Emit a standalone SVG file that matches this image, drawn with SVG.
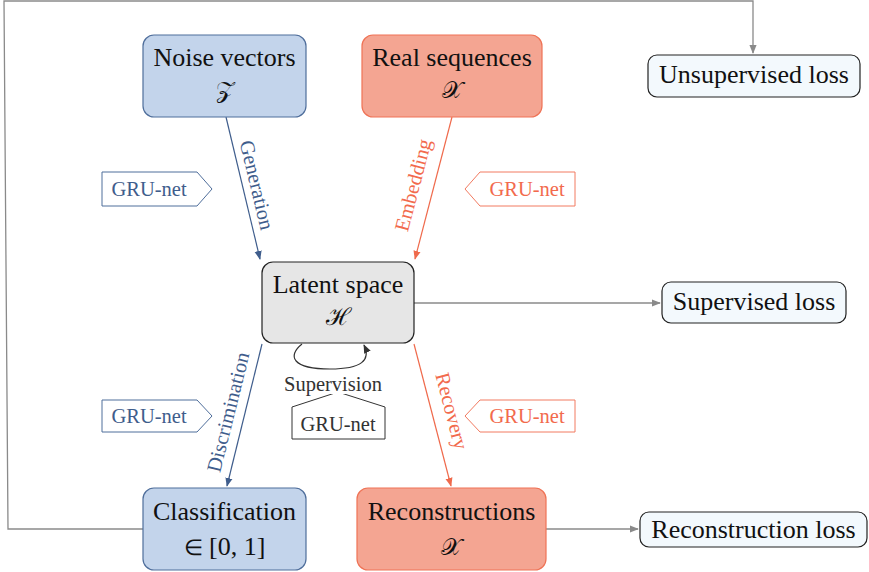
<svg xmlns="http://www.w3.org/2000/svg" width="869" height="572" viewBox="0 0 869 572">
  <style>
    .main { font-family: 'Liberation Serif', 'Times New Roman', Times, serif; font-size: 26px; fill: #111; text-anchor: middle; }
    .math { font-family: 'DejaVu Serif', serif; font-size: 24px; fill: #111; text-anchor: middle; }
    .elem { font-family: 'DejaVu Sans', sans-serif; font-weight: 200; font-size: 22px; }
    .lbl { font-family: 'Liberation Serif', 'Times New Roman', Times, serif; font-size: 20.5px; text-anchor: middle; dominant-baseline: central; }
    .net { font-family: 'Liberation Serif', 'Times New Roman', Times, serif; font-size: 20.5px; text-anchor: middle; }
    .blue { fill: #c3d4eb; stroke: #4f6e9b; stroke-width: 1.2; }
    .red { fill: #f4a592; stroke: #ef7356; stroke-width: 1.2; }
    .grey { fill: #e6e6e6; stroke: #222; stroke-width: 1.2; }
    .loss { fill: #f3f9fd; stroke: #222; stroke-width: 1.2; }
    .tb { fill: #3f5d8c; }
    .tr { fill: #f26a4d; }
    .td { fill: #333; }
    .netb { fill: #fff; stroke: #4f6e9b; stroke-width: 1; }
    .netr { fill: #fff; stroke: #f27a60; stroke-width: 1; }
    .netd { fill: #fff; stroke: #333; stroke-width: 1; }
    .cb { fill: none; stroke: #3f5d8c; stroke-width: 1.2; }
    .cr { fill: none; stroke: #ef6a4c; stroke-width: 1.2; }
    .cg { fill: none; stroke: #8a8a8a; stroke-width: 1.3; }
    .cd { fill: none; stroke: #333; stroke-width: 1.2; }
  </style>
  <defs>
    <marker id="ahb" viewBox="0 0 10 10" refX="9" refY="5" markerWidth="9" markerHeight="9" markerUnits="userSpaceOnUse" orient="auto">
      <path d="M0,1 L10,5 L0,9 Z" fill="#3f5d8c"/>
    </marker>
    <marker id="ahr" viewBox="0 0 10 10" refX="9" refY="5" markerWidth="9" markerHeight="9" markerUnits="userSpaceOnUse" orient="auto">
      <path d="M0,1 L10,5 L0,9 Z" fill="#ef6a4c"/>
    </marker>
    <marker id="ahg" viewBox="0 0 10 10" refX="9" refY="5" markerWidth="9" markerHeight="9" markerUnits="userSpaceOnUse" orient="auto">
      <path d="M0,1 L10,5 L0,9 Z" fill="#8a8a8a"/>
    </marker>
    <marker id="ahd" viewBox="0 0 10 10" refX="9" refY="5" markerWidth="9" markerHeight="9" markerUnits="userSpaceOnUse" orient="auto">
      <path d="M0,1 L10,5 L0,9 Z" fill="#333"/>
    </marker>
  </defs>

  <!-- connectors -->
  <g id="connectors">
    <path class="cg" d="M143,529 L8,529 L4,1 L753,1 L753,53" marker-end="url(#ahg)"/>
    <path class="cb" d="M226,117 L260,259" marker-end="url(#ahb)"/>
    <path class="cr" d="M452,117 L415,259" marker-end="url(#ahr)"/>
    <path class="cb" d="M262,344 L227,486" marker-end="url(#ahb)"/>
    <path class="cr" d="M414,344 L451,486" marker-end="url(#ahr)"/>
    <path class="cg" d="M414,303 L660,303" marker-end="url(#ahg)"/>
    <path class="cg" d="M546,529 L638,529" marker-end="url(#ahg)"/>
    <path class="cd" d="M302,344 C287,356 292,369 330,369 C362,369 371,360 364,345" marker-end="url(#ahd)"/>
    <text class="lbl tb" transform="translate(257,185) rotate(76.5)">Generation</text>
    <text class="lbl tr" transform="translate(413,185) rotate(-75.4)">Embedding</text>
    <text class="lbl tb" transform="translate(228,412) rotate(-76.1)">Discrimination</text>
    <text class="lbl tr" transform="translate(452,411) rotate(75.3)">Recovery</text>
  </g>

  <!-- GRU-net tags -->
  <g id="net-generator">
    <path class="netb" d="M102,172 L197,172 L212,189 L197,206 L102,206 Z"/>
    <text class="net tb" x="149" y="196">GRU-net</text>
  </g>
  <g id="net-embedder">
    <path class="netr" d="M575,172 L480,172 L465,189 L480,206 L575,206 Z"/>
    <text class="net tr" x="527" y="196">GRU-net</text>
  </g>
  <g id="net-discriminator">
    <path class="netb" d="M102,400 L197,400 L212,416 L197,432 L102,432 Z"/>
    <text class="net tb" x="149" y="423">GRU-net</text>
  </g>
  <g id="net-recovery">
    <path class="netr" d="M575,400 L480,400 L465,416 L480,432 L575,432 Z"/>
    <text class="net tr" x="527" y="423">GRU-net</text>
  </g>
  <g id="net-supervisor">
    <path class="netd" d="M292,407 L338,392 L385,407 L385,439 L292,439 Z"/>
    <rect x="282" y="372" width="102" height="22" fill="#fff"/>
    <text class="net td" x="333" y="391">Supervision</text>
    <text class="net td" x="338" y="431">GRU-net</text>
  </g>

  <!-- nodes -->
  <g id="noise">
    <rect class="blue" x="143" y="35" width="163" height="82" rx="11"/>
    <text class="main" x="224.5" y="66">Noise vectors</text>
    <text class="math" x="224.5" y="98">𝒵</text>
  </g>
  <g id="real">
    <rect class="red" x="362" y="35" width="180" height="82" rx="11"/>
    <text class="main" x="452" y="66">Real sequences</text>
    <text class="math" x="452" y="98">𝒳</text>
  </g>
  <g id="latent">
    <rect class="grey" x="262" y="262" width="152" height="81" rx="11"/>
    <text class="main" x="338" y="293">Latent space</text>
    <text class="math" x="338" y="325">ℋ</text>
  </g>
  <g id="classification">
    <rect class="blue" x="143" y="488" width="163" height="82" rx="11"/>
    <text class="main" x="224.5" y="520">Classification</text>
    <text class="main" x="224.5" y="555"><tspan class="elem">∈</tspan> [0, 1]</text>
  </g>
  <g id="reconstructions">
    <rect class="red" x="357" y="488" width="189" height="82" rx="11"/>
    <text class="main" x="451.5" y="520">Reconstructions</text>
    <text class="math" x="451.5" y="555">𝒳</text>
  </g>
  <g id="unsupervised-loss">
    <rect class="loss" x="648" y="55" width="212" height="42" rx="9"/>
    <text class="main" x="754" y="83">Unsupervised loss</text>
  </g>
  <g id="supervised-loss">
    <rect class="loss" x="662" y="282" width="184" height="41" rx="9"/>
    <text class="main" x="754" y="310">Supervised loss</text>
  </g>
  <g id="reconstruction-loss">
    <rect class="loss" x="640" y="512" width="227" height="35" rx="9"/>
    <text class="main" x="753.5" y="538">Reconstruction loss</text>
  </g>
</svg>
